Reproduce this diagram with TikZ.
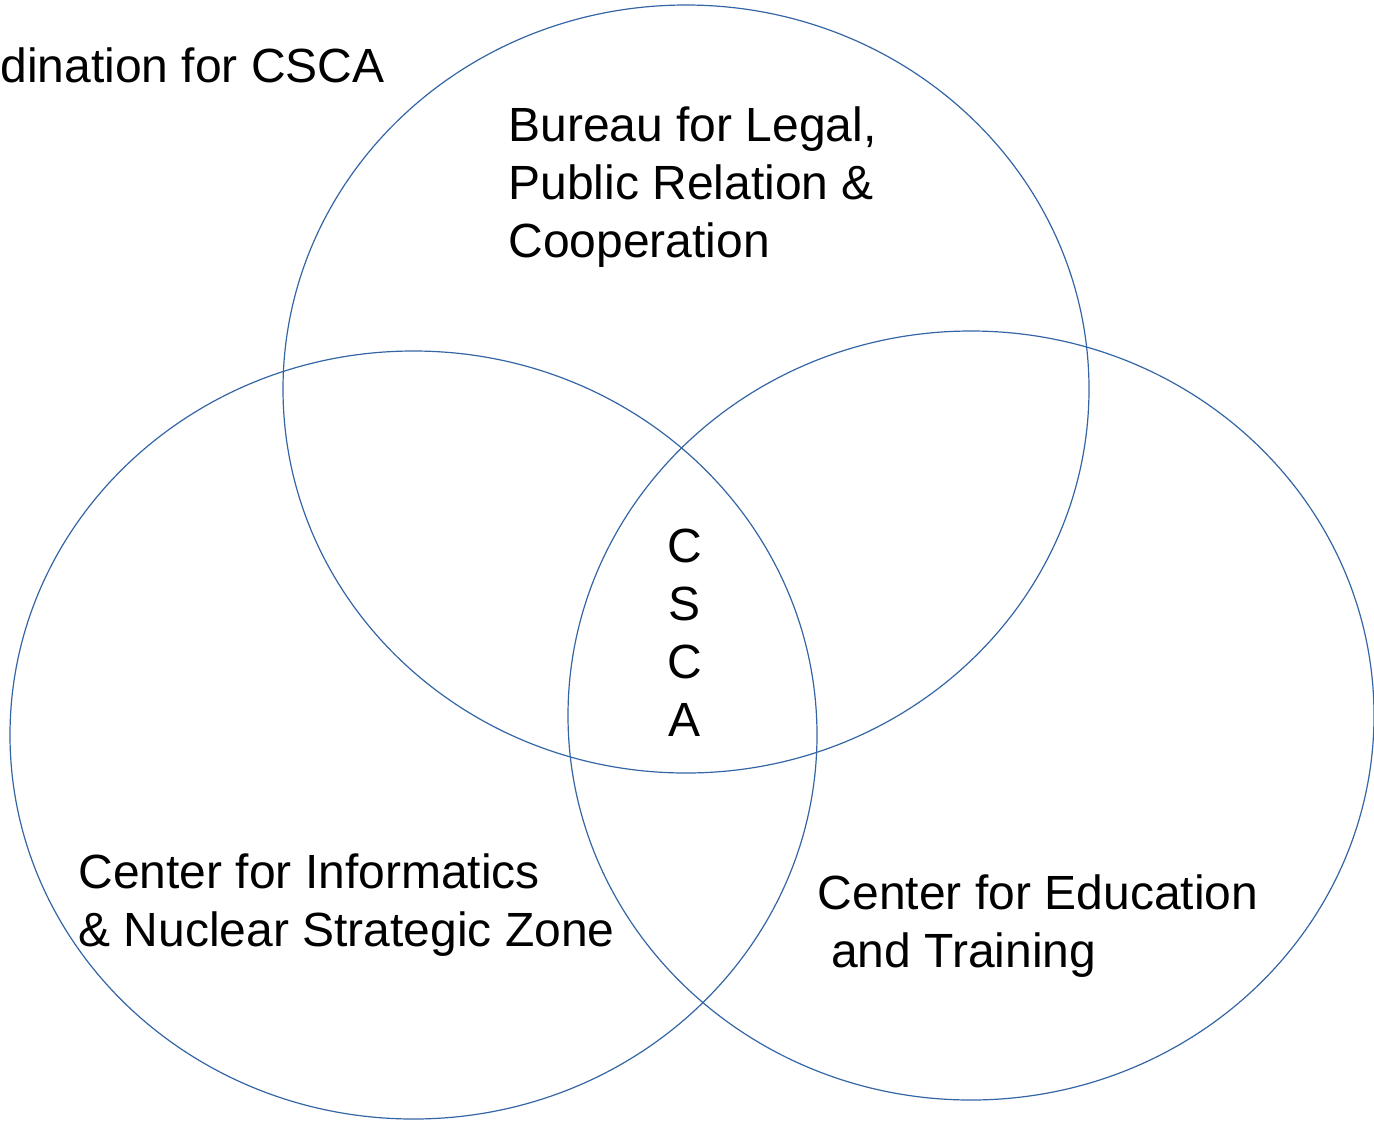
\documentclass[tikz,border=0pt]{standalone}
\usepackage{fontspec}
\setmainfont{Liberation Sans}
\usepackage{tikz}
\usetikzlibrary{positioning}

\definecolor{vennblue}{HTML}{3465A4}

\begin{document}
\begin{tikzpicture}[x=0.5pt,y=-0.5pt,
    venn/.style={draw=vennblue,line width=0.6pt},
    lbl/.style={inner sep=0pt,anchor=base west,align=left,
      font=\fontsize{24}{29}\selectfont}]

  \useasboundingbox (0,0) rectangle (1374,1124);

  % Circles
  \draw[venn] (686,389) ellipse [x radius=403, y radius=384];
  \draw[venn] (413.5,735) ellipse [x radius=403.5, y radius=384];
  \draw[venn] (971,715.5) ellipse [x radius=403, y radius=384.5];

  % Labels (base = last line)
  \node[lbl] (coord) at (0,82) {dination for CSCA};
  \node[lbl] (bureau) at (508,257.5) {Bureau for Legal,\\Public Relation \&\\Cooperation};
  \node[lbl] (informatics) at (78,946.5) {Center for Informatics\\\& Nuclear Strategic Zone};
  \node[lbl] (education) at (817.5,967) {Center for Education\\\hspace*{0.278em}and Training};

  % Middle
  \node[lbl,anchor=base,align=center] (csca) at (684.5,736) {C\\S\\C\\A};
\end{tikzpicture}
\end{document}
